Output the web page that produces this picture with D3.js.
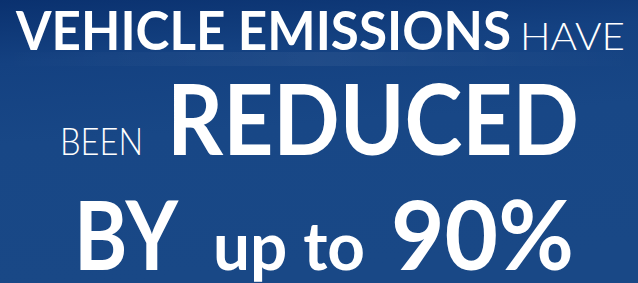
<!DOCTYPE html>
<html>
<head>
<meta charset="utf-8">
<script src="https://cdn.jsdelivr.net/npm/d3@7"></script>
<style>
  html, body { margin: 0; padding: 0; background: #184785; }
  svg { display: block; }
</style>
</head>
<body>
<div id="chart"></div>
<script>
// headline words, split by emphasis
const lineOne = ["VEHICLE EMISSIONS", "HAVE"];
const lineTwo = ["BEEN", "REDUCED"];
const lineThree = ["BY", "up to", "90%"];
const emphasis = [[true, false], [false, true], [true, true, true]];

const width = 638, height = 283;

const svg = d3.select("#chart")
    .append("svg")
    .attr("width", width)
    .attr("height", height);

const defs = svg.append("defs");
const grad = defs.append("linearGradient")
    .attr("id", "bg")
    .attr("x1", 0).attr("y1", 0).attr("x2", 0.15).attr("y2", 1);
grad.append("stop").attr("offset", "0%").attr("stop-color", "#0a316f");
grad.append("stop").attr("offset", "22%").attr("stop-color", "#144181");
grad.append("stop").attr("offset", "50%").attr("stop-color", "#184786");
grad.append("stop").attr("offset", "100%").attr("stop-color", "#194886");

svg.append("rect")
    .attr("width", width)
    .attr("height", height)
    .attr("fill", "url(#bg)");

// soft streak in the backdrop
const streak = defs.append("linearGradient").attr("id", "streak");
streak.append("stop").attr("offset", "0%").attr("stop-color", "#ffffff").attr("stop-opacity", 0);
streak.append("stop").attr("offset", "50%").attr("stop-color", "#ffffff").attr("stop-opacity", 0.05);
streak.append("stop").attr("offset", "100%").attr("stop-color", "#ffffff").attr("stop-opacity", 0);
svg.append("rect").attr("x", 0).attr("y", 52).attr("width", width).attr("height", 14).attr("fill", "url(#streak)");

// layout: [x, baseline, width, font-size] per word
const layout = [
    [[16, 50, 495, 54], [520, 50, 105, 37.5]],
    [[60, 155, 83, 37.5], [167, 155, 412, 97]],
    [[74, 270, 104, 95], [213, 270, 152, 66], [391, 270, 183, 95]]
];

const lines = [lineOne, lineTwo, lineThree];

lines.forEach((words, i) => {
    svg.append("g")
        .selectAll("text")
        .data(words)
        .join("text")
        .attr("x", (d, j) => layout[i][j][0])
        .attr("y", (d, j) => layout[i][j][1])
        .attr("textLength", (d, j) => layout[i][j][2])
        .attr("lengthAdjust", "spacingAndGlyphs")
        .style("font-family", "Lato, 'DejaVu Sans', sans-serif")
        .style("font-size", (d, j) => `${layout[i][j][3]}px`)
        .style("font-weight", (d, j) => emphasis[i][j] ? 700 : 300)
        .style("fill", "#ffffff")
        .text(d => d);
});
</script>
</body>
</html>
